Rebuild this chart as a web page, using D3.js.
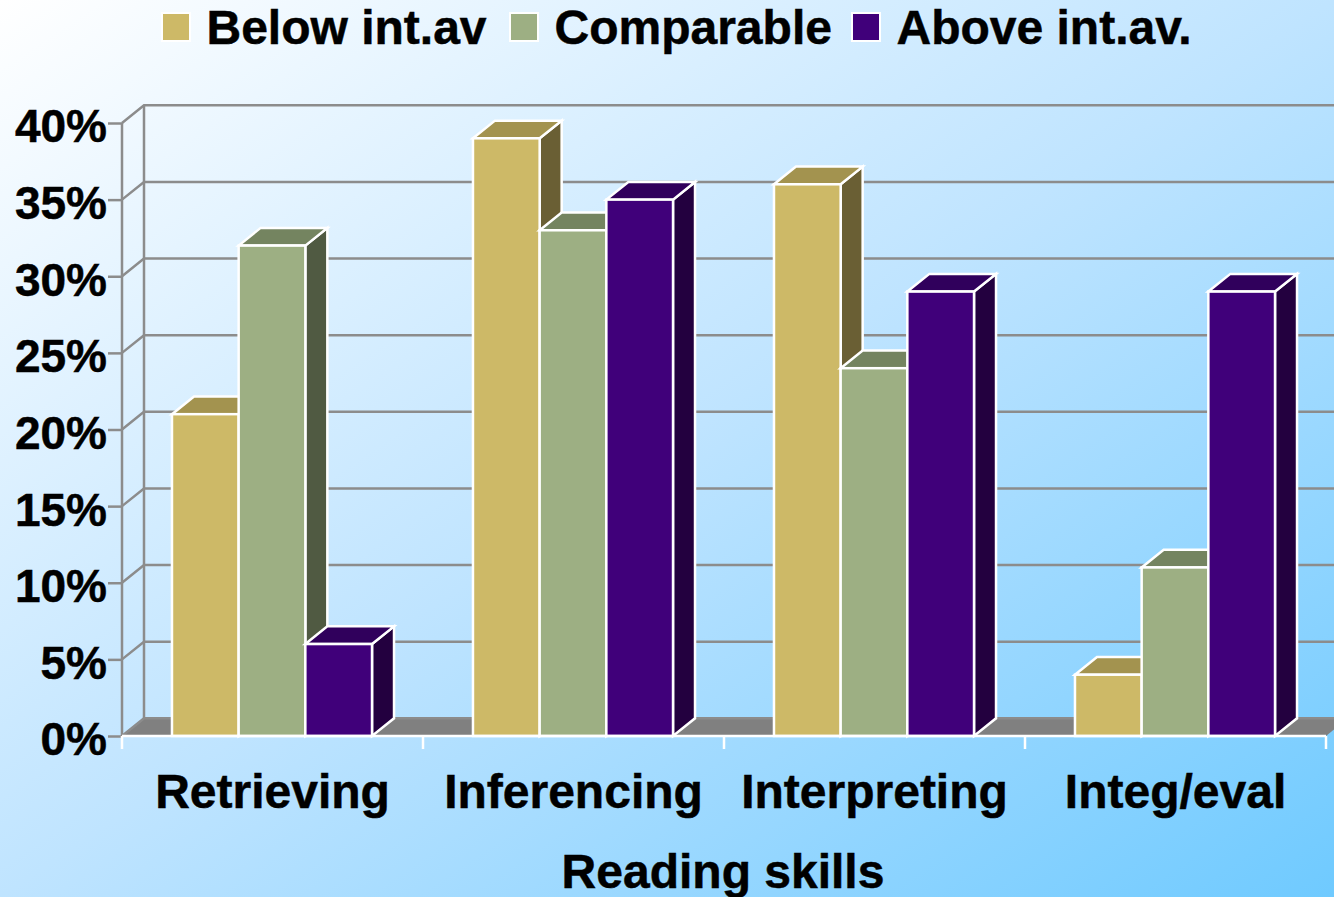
<!DOCTYPE html>
<html>
<head>
<meta charset="utf-8">
<script src="https://cdn.jsdelivr.net/npm/d3@7"></script>
<style>
html, body { margin: 0; padding: 0; overflow: hidden; background: #fff; }
svg { display: block; }
text { font-family: "Liberation Sans", Arial, sans-serif; font-weight: 700; fill: #000; stroke: #000; stroke-width: 0.5px; }
</style>
</head>
<body>
<script>
// Share of pupils per reading skill, relative to the international average
const categories = ["Retrieving", "Inferencing", "Interpreting", "Integ/eval"];
const seriesNames = ["Below int.av", "Comparable", "Above int.av."];
const belowValues = [21, 39, 36, 4];
const comparableValues = [32, 33, 24, 11];
const aboveValues = [6, 35, 29, 29];
const yTicks = [0, 5, 10, 15, 20, 25, 30, 35, 40];
const xTitle = "Reading skills";
const frontColors = ["#CDB967", "#9DAF83", "#40007A"];
const topColors = ["#A3934F", "#748460", "#30005C"];
const sideColors = ["#6A5F34", "#505A42", "#23003F"];

const width = 1334, height = 897;
const depthX = 22, depthY = -17.7;
const seriesValues = [belowValues, comparableValues, aboveValues];

const y = d3.scaleLinear().domain([0, 40]).range([736, 123]);
const xGroup = d3.scaleBand().domain(categories).range([122, 1326]);
const xBar = d3.scaleBand().domain(d3.range(seriesNames.length))
  .range([-0.5, xGroup.bandwidth() - 0.5]).paddingOuter(0.757);
const xEdge = d3.scaleLinear().domain([0, categories.length]).range([122, 1326]);

const svg = d3.select("body").append("svg").attr("width", width).attr("height", height);

// Diagonal backdrop, corner to corner
const grad = svg.append("defs").append("linearGradient").attr("id", "bg")
  .attr("x1", 0).attr("y1", 0).attr("x2", 1).attr("y2", 1);
[[0, "#FFFFFF"], [0.5, "#BFE4FF"], [1, "#6FCAFF"]].forEach(([o, c]) =>
  grad.append("stop").attr("offset", o).attr("stop-color", c));
svg.append("rect").attr("width", width).attr("height", height).attr("fill", "url(#bg)");

const gridColor = "#8C8C8C";
const [x0, x1] = [xEdge(0), xEdge(categories.length)];
const line = d3.line();

// Floor of the box
svg.append("path")
  .attr("d", line([[x0, y(0)], [x0 + depthX, y(0) + depthY], [x1 + depthX, y(0) + depthY], [x1, y(0)]]) + "Z")
  .attr("fill", "#808080");

// Back-wall gridlines and the diagonals joining them to the front axis
const wall = svg.append("g").attr("fill", "none").attr("stroke", gridColor).attr("stroke-width", 2.5);
wall.selectAll(".grid").data(yTicks).join("path").attr("class", "grid")
  .attr("d", d => line([[x0, y(d)], [x0 + depthX, y(d) + depthY], [x1 + depthX, y(d) + depthY]]));
wall.append("path").attr("d", line([[x0 + depthX, y(0) + depthY], [x0 + depthX, y(40) + depthY]]));

// Value axis on the front-left edge
const yAxis = svg.append("g").attr("transform", `translate(${x0},0)`)
  .call(d3.axisLeft(y).tickValues(yTicks).tickSize(14).tickPadding(1).tickFormat(d => d + "%"));
yAxis.selectAll("path,line").attr("stroke", gridColor).attr("stroke-width", 2.5);
yAxis.select(".domain").attr("d", line([[0, y(0)], [0, y(40)]]));
yAxis.selectAll("text").attr("font-size", 46).attr("dy", "0.41em").style("font-family", null);

// 3D bars, painted left to right so later fronts cover earlier sides
const bars = [];
categories.forEach((c, i) => seriesNames.forEach((s, j) =>
  bars.push({ c, j, value: seriesValues[j][i] })));

const bar = svg.append("g").selectAll("g").data(bars).join("g")
  .attr("stroke", "#FFFFFF").attr("stroke-width", 2.5).attr("stroke-linejoin", "miter");
const left = d => xGroup(d.c) + xBar(d.j);
const right = d => left(d) + xBar.bandwidth();
bar.append("path").attr("fill", d => sideColors[d.j])
  .attr("d", d => line([[right(d), y(d.value)], [right(d) + depthX, y(d.value) + depthY],
    [right(d) + depthX, y(0) + depthY], [right(d), y(0)]]) + "Z");
bar.append("path").attr("fill", d => topColors[d.j])
  .attr("d", d => line([[left(d), y(d.value)], [left(d) + depthX, y(d.value) + depthY],
    [right(d) + depthX, y(d.value) + depthY], [right(d), y(d.value)]]) + "Z");
bar.append("rect").attr("fill", d => frontColors[d.j])
  .attr("x", left).attr("y", d => y(d.value))
  .attr("width", xBar.bandwidth()).attr("height", d => y(0) - y(d.value));

// Category baseline with white separators
const base = svg.append("g").attr("stroke", "#FFFFFF").attr("stroke-width", 2.5);
base.append("line").attr("x1", x0).attr("x2", x1).attr("y1", y(0)).attr("y2", y(0));
base.selectAll(".sep").data(d3.range(categories.length + 1)).join("line").attr("class", "sep")
  .attr("x1", xEdge).attr("x2", xEdge).attr("y1", y(0)).attr("y2", y(0) + 13);

const xAxis = svg.append("g").attr("transform", `translate(0,${y(0)})`)
  .call(d3.axisBottom(xGroup).tickSize(0).tickPadding(38));
xAxis.select(".domain").remove();
xAxis.selectAll("text").attr("font-size", 48).style("font-family", null);

svg.append("text").attr("x", 723).attr("y", 888).attr("text-anchor", "middle")
  .attr("font-size", 48).text(xTitle);

// Legend
const legendX = [162, 510, 852];
const legend = svg.append("g").selectAll("g").data(seriesNames).join("g")
  .attr("transform", (d, i) => `translate(${legendX[i]},13)`);
legend.append("rect").attr("width", 28).attr("height", 28)
  .attr("fill", (d, i) => frontColors[i]).attr("stroke", "#FFFFFF").attr("stroke-width", 2);
legend.append("text").attr("x", 44.5).attr("y", 31).attr("font-size", 48).text(d => d);
</script>
</body>
</html>
